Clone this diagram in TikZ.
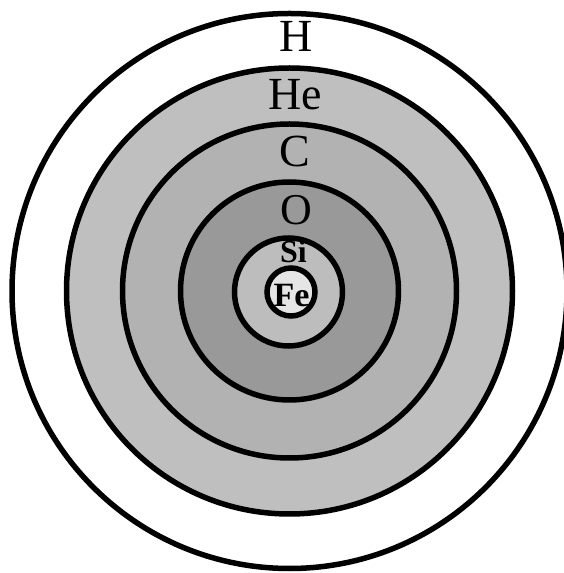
\documentclass[tikz,border=0pt]{standalone}
\usepackage{fontspec}
\setmainfont{Liberation Serif}
\definecolor{heGray}{gray}{0.75}
\definecolor{cGray}{gray}{0.70}
\definecolor{oGray}{gray}{0.60}
\definecolor{siGray}{gray}{0.74}
\definecolor{feGray}{gray}{0.90}
\begin{document}
\begin{tikzpicture}[x=1pt,y=1pt,
  shell/.style={draw=black,line width=5.5pt},
  lbl/.style={inner sep=0pt,anchor=base},
  bigfont/.style={font=\fontsize{46}{50}\selectfont},
  ofont/.style={font=\fontsize{44}{48}\selectfont},
  smallbold/.style={font=\fontsize{32}{36}\selectfont\bfseries},
  febold/.style={font=\fontsize{34}{38}\selectfont\bfseries}]
\useasboundingbox (0,0) rectangle (564,573);
\fill[white] (0,0) rectangle (564,573);
\coordinate (ctr) at (289.5,282);
\draw[shell,fill=white] (ctr) circle (277.5);
\draw[shell,fill=heGray] (ctr) circle (223);
\draw[shell,fill=cGray] (ctr) circle (167);
\draw[shell,fill=oGray] (ctr) circle (109);
\draw[shell,fill=siGray] (288.5,281) circle (54);
\draw[shell,fill=feGray] (291,281) circle (24);
\node[lbl,bigfont] (h) at (296.5,521) {H};
\node[lbl,bigfont] (he) at (295,463) {He};
\node[lbl,bigfont] (c) at (294.5,406) {C};
\node[lbl,ofont] (o) at (296.5,348) {O};
\node[lbl,smallbold] (si) at (293.5,310) {Si};
\node[lbl,febold] (fe) at (291.5,266) {Fe};
\end{tikzpicture}
\end{document}
